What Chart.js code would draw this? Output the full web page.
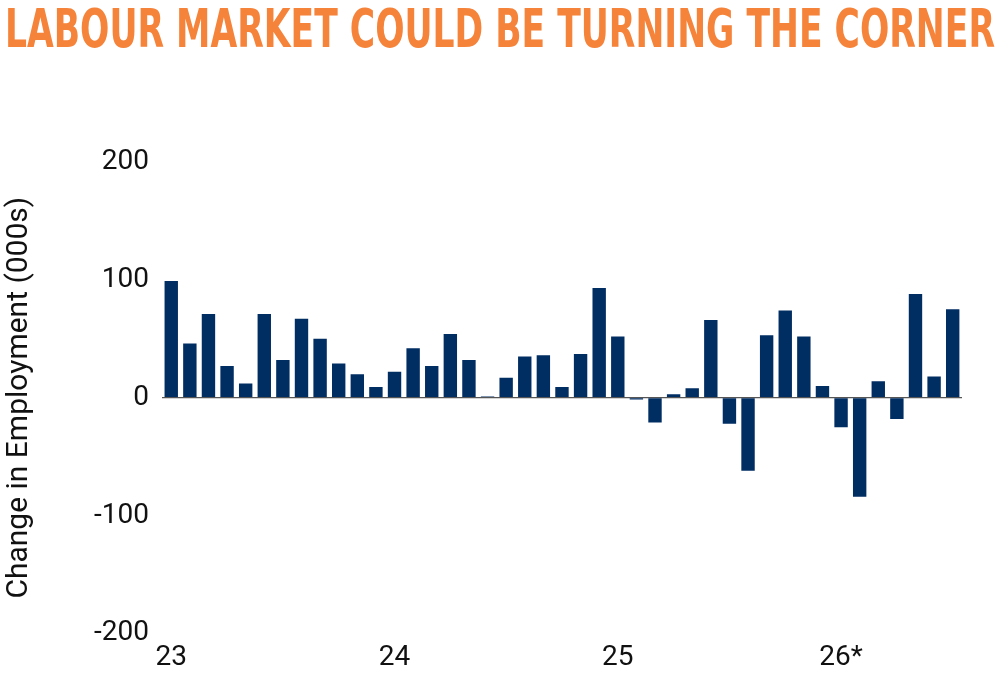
<!DOCTYPE html>
<html>
<head>
<meta charset="utf-8">
<script src="https://cdn.jsdelivr.net/npm/chart.js@4.4.1/dist/chart.umd.min.js"></script>
<style>
  html, body { margin: 0; padding: 0; background: #fff; }
  #wrap { position: relative; width: 1000px; height: 675px; overflow: hidden; }
  #title {
    position: absolute; left: 5px; top: 0px; white-space: nowrap;
    font-family: "Liberation Sans Narrow", "DejaVu Sans Condensed", sans-serif;
    font-weight: bold; font-size: 54px; line-height: 58px; color: #F5833A;
    transform-origin: 0 0;
  }
  #c { position: absolute; left: 0; top: 0; }
</style>
</head>
<body>
<div id="wrap">
  <canvas id="c" width="1000" height="675"></canvas>
  <div id="title">LABOUR MARKET COULD BE TURNING THE CORNER</div>
</div>
<script>
const categories = [
  'Jan 23','Feb 23','Mar 23','Apr 23','May 23','Jun 23','Jul 23','Aug 23','Sep 23','Oct 23','Nov 23','Dec 23',
  'Jan 24','Feb 24','Mar 24','Apr 24','May 24','Jun 24','Jul 24','Aug 24','Sep 24','Oct 24','Nov 24','Dec 24',
  'Jan 25','Feb 25','Mar 25','Apr 25','May 25','Jun 25','Jul 25','Aug 25','Sep 25','Oct 25','Nov 25','Dec 25',
  'Jan 26','Feb 26','Mar 26','Apr 26','May 26','Jun 26','Jul 26'
];
const employmentChange = [
  99, 46, 71, 27, 12, 71, 32, 67, 50, 29, 20, 9,
  22, 42, 27, 54, 32, 1, 17, 35, 36, 9, 37, 93,
  52, -1.5, -21, 3, 8, 66, -22, -62, 53, 74, 52, 10,
  -25, -84, 14, -18, 88, 18, 75
];
const yearTickLabels = ['23', '24', '25', '26*'];
const yTicks = [-200, -100, 0, 100, 200];

// fit title width
const t = document.getElementById('title');
const w = t.getBoundingClientRect().width;
t.style.transform = 'scaleX(' + (990 / w) + ')';

new Chart(document.getElementById('c'), {
  type: 'bar',
  data: {
    labels: categories,
    datasets: [{
      data: employmentChange,
      backgroundColor: '#002D62',
      barPercentage: 0.72,
      categoryPercentage: 1.0
    }]
  },
  options: {
    responsive: false,
    animation: false,
    layout: { padding: { top: 162, right: 38, bottom: 0, left: 0 } },
    plugins: { legend: { display: false }, tooltip: { enabled: false }, title: { display: false } },
    scales: {
      x: {
        grid: { display: false },
        border: { display: false },
        ticks: {
          autoSkip: false,
          maxRotation: 0,
          padding: 0,
          color: '#111',
          font: { family: 'Roboto', size: 28 },
          callback: (v, i) => (i % 12 === 0 ? yearTickLabels[i / 12] : '')
        }
      },
      y: {
        min: -200,
        max: 200,
        afterBuildTicks: (axis) => { axis.ticks = yTicks.map(v => ({ value: v })); },
        border: { display: false },
        grid: {
          drawTicks: false,
          lineWidth: 1.2,
          color: (ctx) => (ctx.tick && ctx.tick.value === 0 ? '#555555' : 'rgba(0,0,0,0)')
        },
        ticks: {
          padding: 13,
          color: '#111',
          font: { family: 'Roboto', size: 28 }
        },
        title: {
          display: true,
          text: 'Change in Employment (000s)',
          color: '#111',
          padding: { top: 1, bottom: 44 },
          font: { family: 'Roboto', size: 30 }
        }
      }
    }
  }
});
</script>
</body>
</html>
